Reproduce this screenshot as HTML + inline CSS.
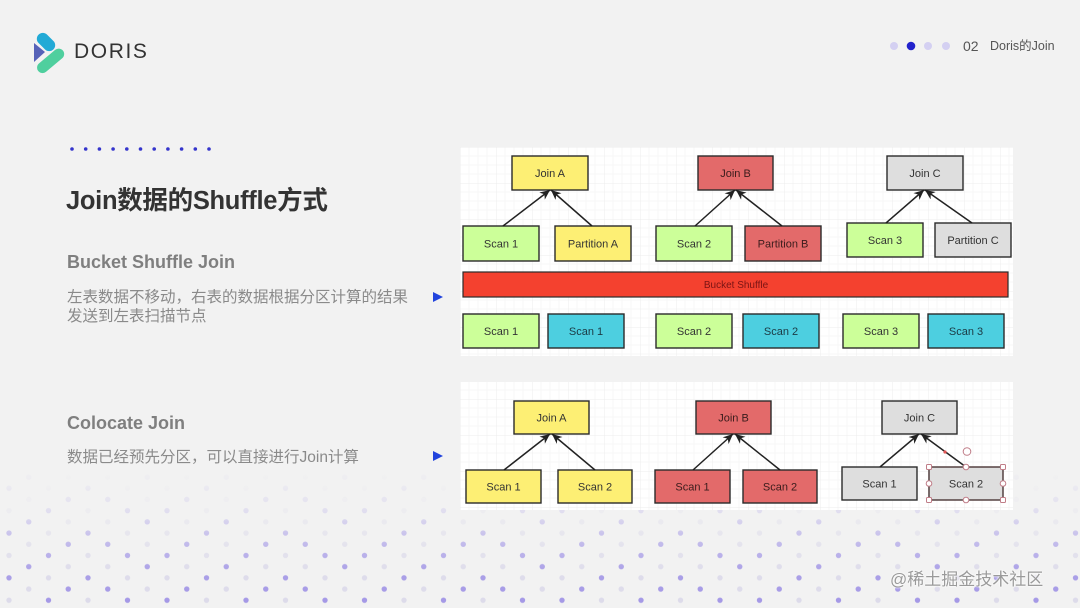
<!DOCTYPE html>
<html><head><meta charset="utf-8">
<style>
html,body{margin:0;padding:0;}
body{width:1080px;height:608px;background:#f2f2f2;position:relative;overflow:hidden;font-family:"Liberation Sans","Noto Sans CJK SC",sans-serif;}
.abs{position:absolute;white-space:nowrap;}
.title{left:66px;top:186px;font-size:25.5px;line-height:30px;font-weight:bold;color:#333;letter-spacing:-0.3px;}
.h2{left:67px;font-size:18px;line-height:18px;font-weight:bold;color:#7f7f7f;}
.desc{left:67px;font-size:15.5px;line-height:19px;color:#8a8a8a;}
.tri{width:0;height:0;border-top:5.5px solid transparent;border-bottom:5.5px solid transparent;border-left:10px solid #2244dd;}
</style></head>
<body>
<svg class="abs" style="left:0;top:0" width="1080" height="608" viewBox="0 0 1080 608">
<defs>
<pattern id="dp" patternUnits="userSpaceOnUse" x="-1" y="527" width="197.5" height="44.8">
<g>
<circle cx="10" cy="6" r="2.7" fill="#a397e6"/><circle cx="49.5" cy="6" r="2.7" fill="#dcdaea"/><circle cx="89" cy="6" r="2.7" fill="#a397e6"/><circle cx="128.5" cy="6" r="2.7" fill="#dcdaea"/><circle cx="168" cy="6" r="2.7" fill="#dcdaea"/>
<circle cx="29.75" cy="17.2" r="2.7" fill="#dcdaea"/><circle cx="69.25" cy="17.2" r="2.7" fill="#a397e6"/><circle cx="108.75" cy="17.2" r="2.7" fill="#a397e6"/><circle cx="148.25" cy="17.2" r="2.7" fill="#dcdaea"/><circle cx="187.75" cy="17.2" r="2.7" fill="#a397e6"/>
<circle cx="10" cy="28.4" r="2.7" fill="#dcdaea"/><circle cx="49.5" cy="28.4" r="2.7" fill="#a397e6"/><circle cx="89" cy="28.4" r="2.7" fill="#dcdaea"/><circle cx="128.5" cy="28.4" r="2.7" fill="#a397e6"/><circle cx="168" cy="28.4" r="2.7" fill="#a397e6"/>
<circle cx="29.75" cy="39.6" r="2.7" fill="#a397e6"/><circle cx="69.25" cy="39.6" r="2.7" fill="#dcdaea"/><circle cx="108.75" cy="39.6" r="2.7" fill="#dcdaea"/><circle cx="148.25" cy="39.6" r="2.7" fill="#a397e6"/><circle cx="187.75" cy="39.6" r="2.7" fill="#dcdaea"/>
</g>
</pattern>
<linearGradient id="fg" x1="0" y1="468" x2="0" y2="608" gradientUnits="userSpaceOnUse">
<stop offset="0" stop-color="#fff" stop-opacity="0"/>
<stop offset="0.3" stop-color="#fff" stop-opacity="0.2"/>
<stop offset="0.5" stop-color="#fff" stop-opacity="0.55"/>
<stop offset="0.75" stop-color="#fff" stop-opacity="0.9"/>
<stop offset="1" stop-color="#fff" stop-opacity="1"/>
</linearGradient>
<mask id="fm" maskUnits="userSpaceOnUse" x="0" y="468" width="1080" height="140">
<rect x="0" y="468" width="1080" height="140" fill="url(#fg)"/>
</mask>
<pattern id="grid" patternUnits="userSpaceOnUse" x="460" y="147" width="36" height="36">
<path d="M9 0V36M18 0V36M27 0V36M0 9H36M0 18H36M0 27H36" stroke="#f7f7f7" stroke-width="1" fill="none"/>
<path d="M0 0V36M0 0H36" stroke="#ececec" stroke-width="1" fill="none"/>
</pattern>
<marker id="ar" markerUnits="userSpaceOnUse" markerWidth="11" markerHeight="9" refX="10" refY="4.5" orient="auto">
<path d="M0,0 L10,4.5 L0,9 L3,4.5 z" fill="#222"/>
</marker>
</defs>

<!-- background dots -->
<rect x="0" y="468" width="1080" height="140" fill="url(#dp)" mask="url(#fm)"/>

<!-- logo -->
<g>
<rect x="35.5" y="36" width="21" height="12" rx="6" transform="rotate(45 46 42)" fill="#22aad6"/>
<polygon points="34,43 34,62 45,52" fill="#5662b8"/>
<rect x="34.5" y="55" width="32" height="11" rx="5.5" transform="rotate(-40 51 60.5)" fill="#4fcf9e"/>
</g>

<!-- header dots -->
<circle cx="894" cy="46" r="4" fill="#d4d0f2"/>
<circle cx="911" cy="46" r="4.3" fill="#2222cc"/>
<circle cx="928" cy="46" r="4" fill="#d4d0f2"/>
<circle cx="946" cy="46" r="4" fill="#d4d0f2"/>

<!-- blue dots row -->
<g fill="#3535cc">
<circle cx="72" cy="149" r="1.8"/><circle cx="85.7" cy="149" r="1.8"/><circle cx="99.4" cy="149" r="1.8"/><circle cx="113.1" cy="149" r="1.8"/><circle cx="126.8" cy="149" r="1.8"/><circle cx="140.5" cy="149" r="1.8"/><circle cx="154.2" cy="149" r="1.8"/><circle cx="167.9" cy="149" r="1.8"/><circle cx="181.6" cy="149" r="1.8"/><circle cx="195.3" cy="149" r="1.8"/><circle cx="209" cy="149" r="1.8"/>
</g>

<!-- Diagram 1 -->
<rect x="460" y="147" width="553" height="209" fill="#fff"/>
<rect x="460" y="147" width="553" height="209" fill="url(#grid)"/>
<g stroke="#2b2b2b" stroke-width="1.4">
<rect x="512" y="156" width="76" height="34" fill="#fdef74"/>
<rect x="698" y="156" width="75" height="34" fill="#e36a6a"/>
<rect x="887" y="156" width="76" height="34" fill="#dedede"/>
<rect x="463" y="226" width="76" height="35" fill="#ccff99"/>
<rect x="555" y="226" width="76" height="35" fill="#fdef74"/>
<rect x="656" y="226" width="76" height="35" fill="#ccff99"/>
<rect x="745" y="226" width="76" height="35" fill="#e36a6a"/>
<rect x="847" y="223" width="76" height="34" fill="#ccff99"/>
<rect x="935" y="223" width="76" height="34" fill="#dedede"/>
<rect x="463" y="272" width="545" height="25" fill="#f4412f" stroke-width="1.2"/>
<rect x="463" y="314" width="76" height="34" fill="#ccff99"/>
<rect x="548" y="314" width="76" height="34" fill="#4dcfe0"/>
<rect x="656" y="314" width="76" height="34" fill="#ccff99"/>
<rect x="743" y="314" width="76" height="34" fill="#4dcfe0"/>
<rect x="843" y="314" width="76" height="34" fill="#ccff99"/>
<rect x="928" y="314" width="76" height="34" fill="#4dcfe0"/>
</g>
<g stroke="#222" stroke-width="1.5" fill="none">
<line x1="503" y1="226" x2="550" y2="190" marker-end="url(#ar)"/>
<line x1="592" y1="226" x2="551" y2="190" marker-end="url(#ar)"/>
<line x1="695" y1="226" x2="735" y2="190" marker-end="url(#ar)"/>
<line x1="782" y1="226" x2="736" y2="190" marker-end="url(#ar)"/>
<line x1="886" y1="223" x2="924" y2="190" marker-end="url(#ar)"/>
<line x1="972" y1="223" x2="925" y2="190" marker-end="url(#ar)"/>
</g>
<g font-family="Liberation Sans, sans-serif" font-size="11" text-anchor="middle" fill="#333">
<text x="550" y="177">Join A</text>
<text x="735.5" y="177" fill="#3a1c1c">Join B</text>
<text x="925" y="177">Join C</text>
<text x="501" y="247.5">Scan 1</text>
<text x="593" y="247.5">Partition A</text>
<text x="694" y="247.5">Scan 2</text>
<text x="783" y="247.5" fill="#3a1c1c">Partition B</text>
<text x="885" y="244">Scan 3</text>
<text x="973" y="244">Partition C</text>
<text x="736" y="288" font-size="10" fill="#7a1414">Bucket Shuffle</text>
<text x="501" y="335">Scan 1</text>
<text x="586" y="335" fill="#1c3a44">Scan 1</text>
<text x="694" y="335">Scan 2</text>
<text x="781" y="335" fill="#1c3a44">Scan 2</text>
<text x="881" y="335">Scan 3</text>
<text x="966" y="335" fill="#1c3a44">Scan 3</text>
</g>

<!-- Diagram 2 -->
<rect x="460" y="382" width="553" height="128" fill="#fff"/>
<rect x="460" y="382" width="553" height="128" fill="url(#grid)"/>
<g stroke="#2b2b2b" stroke-width="1.4">
<rect x="514" y="401" width="75" height="33" fill="#fdef74"/>
<rect x="466" y="470" width="75" height="33" fill="#fdef74"/>
<rect x="558" y="470" width="74" height="33" fill="#fdef74"/>
<rect x="696" y="401" width="75" height="33" fill="#e36a6a"/>
<rect x="655" y="470" width="75" height="33" fill="#e36a6a"/>
<rect x="743" y="470" width="74" height="33" fill="#e36a6a"/>
<rect x="882" y="401" width="75" height="33" fill="#dedede"/>
<rect x="842" y="467" width="75" height="33" fill="#dedede"/>
<rect x="929" y="467" width="74" height="33" fill="#dedede" stroke="#4a3535"/>
</g>
<g stroke="#222" stroke-width="1.5" fill="none">
<line x1="504" y1="470" x2="550" y2="434" marker-end="url(#ar)"/>
<line x1="595" y1="470" x2="552" y2="434" marker-end="url(#ar)"/>
<line x1="693" y1="470" x2="733" y2="434" marker-end="url(#ar)"/>
<line x1="780" y1="470" x2="735" y2="434" marker-end="url(#ar)"/>
<line x1="880" y1="467" x2="919" y2="434" marker-end="url(#ar)"/>
<line x1="966" y1="467" x2="921" y2="434" marker-end="url(#ar)"/>
</g>
<g fill="#fff" stroke="#c07d88" stroke-width="1">
<rect x="926.5" y="464.5" width="5" height="5" rx="1"/>
<rect x="1000.5" y="464.5" width="5" height="5" rx="1"/>
<rect x="926.5" y="497.5" width="5" height="5" rx="1"/>
<rect x="1000.5" y="497.5" width="5" height="5" rx="1"/>
<circle cx="966" cy="467" r="2.8"/>
<circle cx="966" cy="500" r="2.8"/>
<circle cx="929" cy="483.5" r="2.8"/>
<circle cx="1003" cy="483.5" r="2.8"/>
<circle cx="967" cy="451.5" r="3.8"/>
</g>
<circle cx="945" cy="452" r="1.6" fill="#e05555"/>
<g font-family="Liberation Sans, sans-serif" font-size="11" text-anchor="middle" fill="#333">
<text x="551.5" y="421.5">Join A</text>
<text x="503.5" y="490.5">Scan 1</text>
<text x="595" y="490.5">Scan 2</text>
<text x="733.5" y="421.5" fill="#3a1c1c">Join B</text>
<text x="692.5" y="490.5" fill="#3a1c1c">Scan 1</text>
<text x="780" y="490.5" fill="#3a1c1c">Scan 2</text>
<text x="919.5" y="421.5">Join C</text>
<text x="879.5" y="487.5">Scan 1</text>
<text x="966" y="487.5">Scan 2</text>
</g>
</svg>

<div class="abs" style="left:74px;top:40px;font-size:21px;line-height:24px;color:#333;letter-spacing:1.6px;">DORIS</div>
<div class="abs" style="left:963px;top:38px;font-size:14px;line-height:16px;color:#555;">02</div>
<div class="abs" style="left:990px;top:38px;font-size:12.5px;line-height:16px;color:#555;">Doris的Join</div>

<div class="abs title">Join数据的Shuffle方式</div>

<div class="abs h2" style="top:253px;">Bucket Shuffle Join</div>
<div class="abs desc" style="top:288px;">左表数据不移动，右表的数据根据分区计算的结果<br>发送到左表扫描节点</div>
<div class="abs tri" style="left:433px;top:291.5px;"></div>

<div class="abs h2" style="top:414px;">Colocate Join</div>
<div class="abs desc" style="top:448px;">数据已经预先分区，可以直接进行Join计算</div>
<div class="abs tri" style="left:433px;top:450.5px;"></div>

<div class="abs" style="left:890px;top:569px;font-size:17px;line-height:22px;color:#9a9a9a;text-shadow:0 0 2px #fff,0 0 2px #fff;">@稀土掘金技术社区</div>
</body></html>
